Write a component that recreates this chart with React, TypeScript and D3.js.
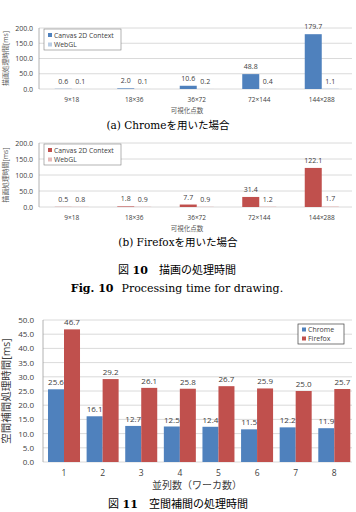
import React from 'react';
import * as d3 from 'd3';

const pointCounts = ['9×18', '18×36', '36×72', '72×144', '144×288'];
const chromeCanvas = [0.6, 2.0, 10.6, 48.8, 179.7];
const chromeWebGL = [0.1, 0.1, 0.2, 0.4, 1.1];
const firefoxCanvas = [0.5, 1.8, 7.7, 31.4, 122.1];
const firefoxWebGL = [0.8, 0.9, 0.9, 1.2, 1.7];
const drawTicks = [0, 50, 100, 150, 200];

const workers = ['1', '2', '3', '4', '5', '6', '7', '8'];
const interpChrome = [25.6, 16.1, 12.7, 12.5, 12.4, 11.5, 12.2, 11.9];
const interpFirefox = [46.7, 29.2, 26.1, 25.8, 26.7, 25.9, 25.0, 25.7];
const interpTicks = [0, 5, 10, 15, 20, 25, 30, 35, 40, 45, 50];

const BLUE = '#4F81BD';
const RED = '#C0504D';
const SANS = '"Open Sans", "Noto Sans CJK JP", sans-serif';
const SERIF = '"DejaVu Serif", "Noto Sans CJK JP", serif';
const fmt = d3.format('.1f');

function DrawChart({ top, bottom, canvas, webgl, main, light }: any) {
  const x = d3.scaleBand().domain(pointCounts).range([40.5, 353]);
  const y = d3.scaleLinear().domain([0, 200]).range([bottom, top]);
  const bw = 17;
  return (
    <g fontFamily={SANS} fill="#404040">
      {drawTicks.map((t) => (
        <g key={t}>
          <line x1={39} x2={352} y1={y(t)} y2={y(t)} stroke="#d0d0d0" strokeWidth={0.8} />
          <text x={33} y={y(t) + 2.5} fontSize={7} textAnchor="end">{fmt(t)}</text>
        </g>
      ))}
      <line x1={39} x2={39} y1={top} y2={bottom} stroke="#a0a0a0" strokeWidth={0.8} />
      {pointCounts.map((c, i) => {
        const cx = x(c)! + x.bandwidth() / 2;
        return (
          <g key={c}>
            <rect x={cx - bw} y={y(canvas[i])} width={bw} height={bottom - y(canvas[i])} fill={main} />
            <rect x={cx} y={y(webgl[i])} width={bw} height={bottom - y(webgl[i])} fill={light} />
            <text x={cx - bw / 2} y={y(canvas[i]) - 5} fontSize={7} textAnchor="middle">{fmt(canvas[i])}</text>
            <text x={cx + bw / 2} y={y(webgl[i]) - 5} fontSize={7} textAnchor="middle">{fmt(webgl[i])}</text>
            <text x={cx} y={bottom + 13} fontSize={6.5} textAnchor="middle">{c}</text>
          </g>
        );
      })}
      <rect x={44} y={top + 1} width={77} height={21} fill="#fff" stroke="#7f7f7f" strokeWidth={0.6} />
      <rect x={48} y={top + 5} width={4} height={4} fill={main} />
      <text x={54} y={top + 9.5} fontSize={6.8}>Canvas 2D Context</text>
      <rect x={48} y={top + 14.5} width={4} height={4} fill={light} />
      <text x={54} y={top + 19} fontSize={6.8}>WebGL</text>
      <text x={187} y={bottom + 24} fontSize={6.5} textAnchor="middle" fill="#595959">可視化点数</text>
      <text transform={`translate(8,${(top + bottom) / 2}) rotate(-90)`} fontSize={6.8} textAnchor="middle" fill="#595959">描画処理時間[ms]</text>
    </g>
  );
}

function InterpChart() {
  const top = 320, bottom = 462;
  const x = d3.scaleBand().domain(workers).range([44.7, 353.6]);
  const y = d3.scaleLinear().domain([0, 50]).range([bottom, top]);
  const bw = 16;
  return (
    <g fontFamily={SANS} fill="#404040">
      {interpTicks.map((t) => (
        <g key={t}>
          <line x1={43} x2={352} y1={y(t)} y2={y(t)} stroke="#d0d0d0" strokeWidth={0.8} />
          <text x={34} y={y(t) + 3} fontSize={8} textAnchor="end">{fmt(t)}</text>
        </g>
      ))}
      <line x1={43} x2={43} y1={top} y2={bottom} stroke="#a0a0a0" strokeWidth={0.8} />
      {workers.map((w, i) => {
        const cx = x(w)! + x.bandwidth() / 2;
        return (
          <g key={w}>
            <rect x={cx - bw} y={y(interpChrome[i])} width={bw} height={bottom - y(interpChrome[i])} fill={BLUE} />
            <rect x={cx} y={y(interpFirefox[i])} width={bw} height={bottom - y(interpFirefox[i])} fill={RED} />
            <text x={cx - bw / 2} y={y(interpChrome[i]) - 4} fontSize={8} textAnchor="middle">{fmt(interpChrome[i])}</text>
            <text x={cx + bw / 2} y={y(interpFirefox[i]) - 4} fontSize={8} textAnchor="middle">{fmt(interpFirefox[i])}</text>
            <text x={cx} y={bottom + 13.5} fontSize={8.5} textAnchor="middle">{w}</text>
          </g>
        );
      })}
      <rect x={298} y={324} width={46} height={20} fill="#fff" stroke="#404040" strokeWidth={0.7} />
      <rect x={302} y={327.5} width={4} height={4} fill={BLUE} />
      <text x={308} y={331.5} fontSize={7}>Chrome</text>
      <rect x={302} y={336.5} width={4} height={4} fill={RED} />
      <text x={308} y={340.5} fontSize={7}>Firefox</text>
      <text x={197} y={489} fontSize={10} textAnchor="middle" fill="#404040">並列数（ワーカ数）</text>
      <text transform={`translate(10,${(top + bottom) / 2}) rotate(-90)`} fontSize={10.5} textAnchor="middle" fill="#404040">空間補間処理時間[ms]</text>
    </g>
  );
}

export default function App() {
  return (
    <svg width={356} height={512} style={{ position: 'absolute', left: 0, top: 0, background: '#fff' }}>
      <rect width={356} height={512} fill="#fff" />
      <DrawChart top={28} bottom={89} canvas={chromeCanvas} webgl={chromeWebGL} main={BLUE} light="#B9CDE5" />
      <text x={168} y={129} fontSize={10.5} fontFamily={SERIF} textAnchor="middle">(a) Chromeを用いた場合</text>
      <DrawChart top={143} bottom={207} canvas={firefoxCanvas} webgl={firefoxWebGL} main={RED} light="#E6B9B8" />
      <text x={178} y={246} fontSize={10.5} fontFamily={SERIF} textAnchor="middle">(b) Firefoxを用いた場合</text>
      <text x={177} y={274} fontSize={11} fontFamily={SERIF} textAnchor="middle">
        図 <tspan fontWeight="bold">10</tspan>{'　描画の処理時間'}
      </text>
      <text x={177} y={292} fontSize={11} fontFamily={SERIF} textAnchor="middle">
        <tspan fontWeight="bold">Fig. 10</tspan>
        <tspan dx={8}>Processing time for drawing.</tspan>
      </text>
      <InterpChart />
      <text x={178} y={508} fontSize={11} fontFamily={SERIF} textAnchor="middle">
        図 <tspan fontWeight="bold">11</tspan>{'　空間補間の処理時間'}
      </text>
    </svg>
  );
}
